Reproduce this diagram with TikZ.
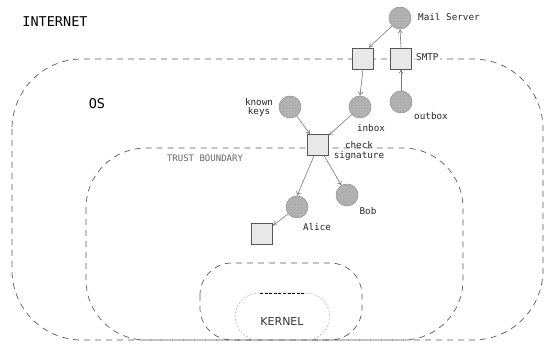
\documentclass[tikz,border=0pt]{standalone}
\usepackage{fontspec}
\setmainfont{DejaVu Sans}
\newfontfamily\monofont{DejaVu Sans Mono}
\usetikzlibrary{arrows.meta,patterns}
\definecolor{zoneline}{HTML}{5A5A5A}
\definecolor{arrowgrey}{HTML}{777777}
\definecolor{boxfill}{HTML}{E8E8E8}
\definecolor{boxedge}{HTML}{555555}
\definecolor{storefill}{HTML}{AEAEAE}
\definecolor{storeedge}{HTML}{909090}
\tikzset{
  zone/.style={draw=zoneline, line width=0.7pt, dash pattern=on 6pt off 5pt},
  kernelzone/.style={draw=gray!55, line width=0.6pt, dash pattern=on 2pt off 1.6pt},
  proc/.style={draw=boxedge, fill=boxfill, line width=0.8pt, minimum size=21pt, inner sep=0pt},
  store/.style={circle, draw=storeedge, line width=0.5pt, minimum size=22pt, inner sep=0pt,
    preaction={fill=storefill}, pattern=dots, pattern color=gray!30},
  flow/.style={draw=arrowgrey, line width=0.6pt, -{To[length=4pt,width=5pt]}},
  lbl/.style={font=\monofont\fontsize{9.3}{9.6}\selectfont, inner sep=1pt, text=black!85},
}
\begin{document}
\begin{tikzpicture}[x=1pt,y=-1pt]
\useasboundingbox (0,0) rectangle (544,344);

% nested security zones
\draw[zone, rounded corners=70pt] (12,59) rectangle (543,340);
\draw[zone, rounded corners=60pt] (86,148) rectangle (463,340);
\draw[zone, rounded corners=32pt] (200,263) rectangle (362,340);
\draw[kernelzone, rounded corners=24pt] (235,293) rectangle (330,340);
\draw[black, line width=0.6pt, dash pattern=on 3pt off 1.6pt] (260,293) -- (305,293);

% zone names
\node[font=\monofont\fontsize{13.5}{14}\selectfont] (internet) at (55,22) {INTERNET};
\node[font=\monofont\fontsize{13.5}{14}\selectfont] (os) at (97,104) {OS};
\node[font=\monofont\fontsize{9}{10}\selectfont, text=black!60] (trust) at (205,158) {TRUST BOUNDARY};
\node[font=\fontsize{11}{12}\selectfont, text=black!80] (kernel) at (282,321) {KERNEL};

% stores and processes
\node[store] (ms) at (400,18) {};
\node[proc] (b1) at (363,58.5) {};
\node[proc] (b2) at (401,58.5) {};
\node[store] (inbox) at (360,107) {};
\node[store] (outbox) at (401,102) {};
\node[store] (keys) at (290,107) {};
\node[proc] (check) at (318,145) {};
\node[store] (alice) at (297,207) {};
\node[store] (bob) at (347,195) {};
\node[proc] (out) at (262,234) {};

% labels
\node[lbl, anchor=west] (mslbl) at (417,17) {Mail Server};
\node[lbl, anchor=west, fill=white] (smtp) at (415,57) {SMTP};
\node[lbl] (inboxlbl) at (371,128) {inbox};
\node[lbl] (outboxlbl) at (431,116) {outbox};
\node[lbl, align=center] (keyslbl) at (259,107.5) {known\\keys};
\node[lbl, align=center] (checklbl) at (359,151) {check\\signature};
\node[lbl] (boblbl) at (368,211) {Bob};
\node[lbl] (alicelbl) at (317,227) {Alice};

% message flows
\draw[flow] (ms.225) -- (b1.62);
\draw[flow] (b1.south) -- (inbox.north);
\draw[flow] (b2.north) -- (ms.south);
\draw[flow] (outbox.north) -- (b2.south);
\draw[flow] (keys) -- (check);
\draw[flow] (inbox) -- (check);
\draw[flow] (check.250) -- (alice.north);
\draw[flow] (check.300) -- (bob);
\draw[flow] (alice) -- (out);
\end{tikzpicture}
\end{document}
